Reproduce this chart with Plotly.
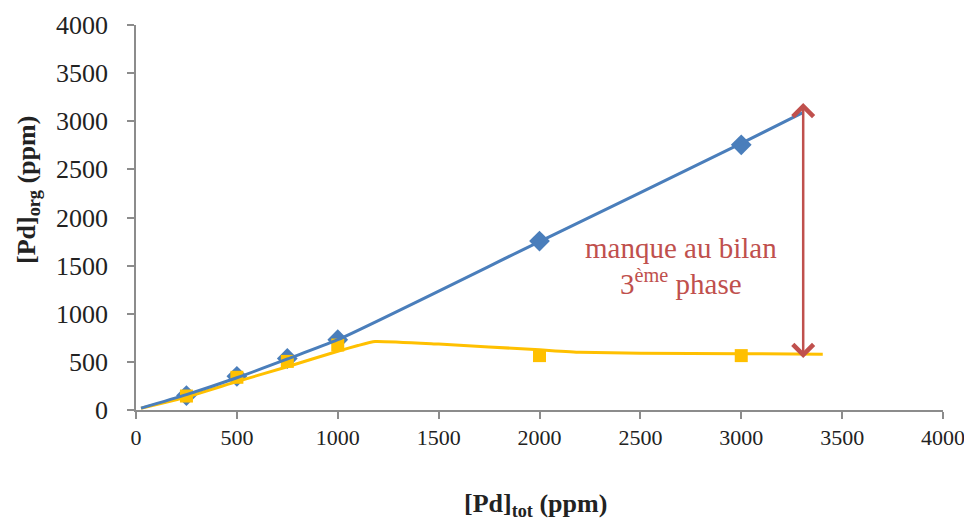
import plotly.graph_objects as go

# measured points
pd_tot = [250, 500, 750, 1000, 2000, 3000]
pd_org_blue = [150, 350, 535, 730, 1755, 2755]
pd_org_yellow = [145, 340, 505, 675, 565, 565]

# trend curves
blue_line_x = [25, 250, 500, 750, 1000, 2000, 3000, 3305]
blue_line_y = [20, 160, 335, 530, 730, 1750, 2770, 3090]
yellow_line_x = [25, 250, 500, 750, 1000, 1100, 1185, 1500, 2000, 2200, 2500, 3000, 3404]
yellow_line_y = [18, 135, 295, 450, 610, 670, 712, 685, 625, 600, 590, 585, 580]

BLUE = '#4A7EBB'
YELLOW = '#FFC000'
RED = '#C0504D'
FONT = 'Liberation Serif, Times New Roman, serif'

fig = go.Figure()
fig.add_trace(go.Scatter(x=pd_tot, y=pd_org_blue, mode='markers',
                         marker=dict(symbol='diamond', size=16, color=BLUE)))
fig.add_trace(go.Scatter(x=pd_tot, y=pd_org_yellow, mode='markers',
                         marker=dict(symbol='square', size=13, color=YELLOW)))
fig.add_trace(go.Scatter(x=yellow_line_x, y=yellow_line_y, mode='lines',
                         line=dict(color=YELLOW, width=3, shape='spline', smoothing=0.4)))
fig.add_trace(go.Scatter(x=blue_line_x, y=blue_line_y, mode='lines',
                         line=dict(color=BLUE, width=3, shape='spline', smoothing=0.6)))

# double arrow "manque au bilan"
fig.add_annotation(x=3307, y=540, ax=3307, ay=3205, xref='x', yref='y',
                   axref='x', ayref='y', text='', showarrow=True,
                   arrowhead=4, startarrowhead=4, arrowside='end+start',
                   arrowsize=1.6, startarrowsize=1.6, arrowwidth=2.5, arrowcolor=RED)
fig.add_annotation(x=2700, y=1683, xref='x', yref='y', text='manque au bilan',
                   showarrow=False, font=dict(family=FONT, size=29, color=RED))
fig.add_annotation(x=2700, y=1335, xref='x', yref='y', text='3<sup>ème</sup> phase',
                   showarrow=False, font=dict(family=FONT, size=29, color=RED))

# axis titles (positions in pixels, converted to paper coords)
fig.add_annotation(x=(535 - 136) / 807, y=(410 - 505) / 385, xref='paper', yref='paper',
                   xanchor='center', yanchor='middle',
                   text='<b>[Pd]<sub>tot</sub> (ppm)</b>', showarrow=False,
                   font=dict(family=FONT, size=26, color='#222'))
fig.add_annotation(x=(28 - 136) / 807, y=(410 - 190) / 385, xref='paper', yref='paper',
                   xanchor='center', yanchor='middle',
                   text='<b>[Pd]<sub>org</sub> (ppm)</b>', textangle=-90, showarrow=False,
                   font=dict(family=FONT, size=26, color='#222'))

axis_style = dict(range=[0, 4000], dtick=500, showgrid=False, zeroline=False,
                  showline=True, linecolor='#8c8c8c', linewidth=1.5, automargin=False,
                  ticks='outside', ticklen=7, tickcolor='#8c8c8c', tickwidth=1.5)
fig.update_xaxes(**axis_style, tickfont=dict(family=FONT, size=22, color='#222'))
fig.update_yaxes(**axis_style, ticklabelstandoff=14,
                 tickfont=dict(family=FONT, size=26, color='#222'))

# page body adds an 8px offset, so the figure is drawn 8px smaller
fig.update_layout(width=964, height=512, showlegend=False,
                  font=dict(family=FONT, color='#222'),
                  margin=dict(l=128, r=29, t=17, b=110),
                  plot_bgcolor='white', paper_bgcolor='white')
fig.write_html('out.html')
